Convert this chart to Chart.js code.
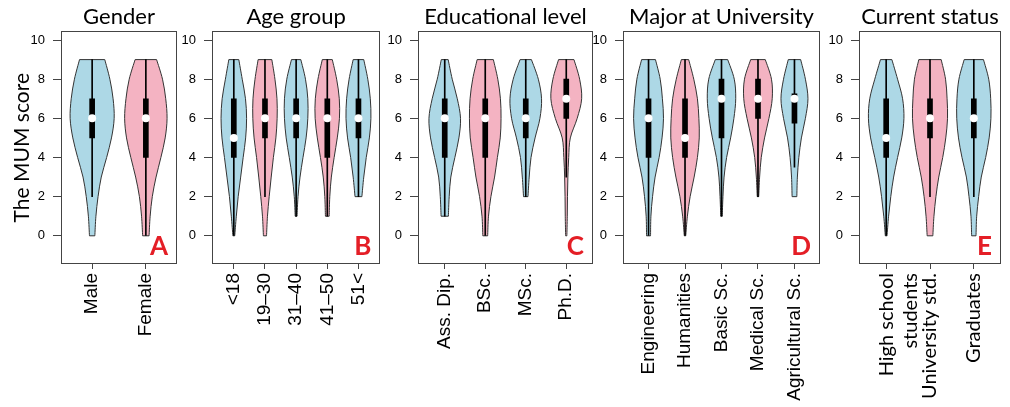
<!DOCTYPE html>
<html>
<head>
<meta charset="utf-8">
<title>MUM score violins</title>
<script src="https://cdn.jsdelivr.net/npm/chart.js@4.4.1/dist/chart.umd.min.js"></script>
<style>
  html, body { margin: 0; padding: 0; background: #fff; }
  #wrap { position: relative; width: 1010px; height: 407px; overflow: hidden; }
  .panel { position: absolute; top: 0; height: 407px; }
</style>
</head>
<body>
<div id="wrap">
  <div class="panel" style="left:0px;width:181px"><canvas id="chartA"></canvas></div>
  <div class="panel" style="left:176px;width:210px"><canvas id="chartB"></canvas></div>
  <div class="panel" style="left:382px;width:215px"><canvas id="chartC"></canvas></div>
  <div class="panel" style="left:587px;width:237px"><canvas id="chartD"></canvas></div>
  <div class="panel" style="left:823px;width:182px"><canvas id="chartE"></canvas></div>
</div>
<script>
// ============================================================
// Data (score 0–10)
// density = half width of the violin (share of one category step),
// one value per score from violinFrom up to 9
// ============================================================

const yTicks = [0, 2, 4, 6, 8, 10];

// A — Gender
const genderLabels = ['Male', 'Female'];
const genderLow = [2, 0];
const genderQ1 = [5, 4];
const genderMedian = [6, 6];
const genderQ3 = [7, 7];
const genderHigh = [9, 9];
const genderViolinFrom = [0, 0];
const genderDensity = [
  [0.05, 0.07, 0.11, 0.17, 0.27, 0.36, 0.41, 0.39, 0.33, 0.235],
  [0.06, 0.08, 0.12, 0.19, 0.28, 0.36, 0.395, 0.37, 0.31, 0.20]
];

// B — Age group
const ageLabels = ['<18', '19\u201330', '31\u201340', '41\u201350', '51<'];
const ageLow = [0, 2, 1, 1, 2];
const ageQ1 = [4, 5, 5, 4, 5];
const ageMedian = [5, 6, 6, 6, 6];
const ageQ3 = [7, 7, 7, 7, 7];
const ageHigh = [9, 9, 9, 9, 9];
const ageViolinFrom = [0, 0, 1, 1, 2];
const ageDensity = [
  [0.03, 0.08, 0.14, 0.22, 0.30, 0.38, 0.41, 0.375, 0.27, 0.16],
  [0.05, 0.08, 0.135, 0.20, 0.27, 0.35, 0.39, 0.385, 0.32, 0.22],
  [0.03, 0.06, 0.125, 0.22, 0.32, 0.375, 0.375, 0.30, 0.15],
  [0.06, 0.08, 0.13, 0.22, 0.32, 0.39, 0.385, 0.30, 0.16],
  [0.11, 0.17, 0.25, 0.35, 0.40, 0.38, 0.30, 0.17]
];

// C — Educational level
const eduLabels = ['Ass. Dip.', 'BSc.', 'MSc.', 'Ph.D.'];
const eduLow = [1, 0, 2, 3];
const eduQ1 = [4, 4, 5, 6];
const eduMedian = [6, 6, 6, 7];
const eduQ3 = [7, 7, 7, 8];
const eduHigh = [9, 9, 9, 9];
const eduViolinFrom = [1, 0, 2, 0];
const eduDensity = [
  [0.09, 0.11, 0.15, 0.25, 0.35, 0.39, 0.31, 0.185, 0.085],
  [0.06, 0.08, 0.14, 0.23, 0.30, 0.37, 0.39, 0.375, 0.31, 0.20],
  [0.055, 0.085, 0.13, 0.23, 0.35, 0.39, 0.31, 0.14],
  [0.015, 0.025, 0.03, 0.04, 0.06, 0.10, 0.27, 0.38, 0.33, 0.19]
];

// D — Major at University
const majorLabels = ['Engineering', 'Humanities', 'Basic Sc.', 'Medical Sc.', 'Agricultural Sc.'];
const majorLow = [0, 0, 1, 2, 3.5];
const majorQ1 = [4, 4, 5, 6, 5.75];
const majorMedian = [6, 5, 7, 7, 7];
const majorQ3 = [7, 7, 8, 8, 7.25];
const majorHigh = [9, 9, 9, 9, 9];
const majorViolinFrom = [0, 0, 1, 2, 2];
const majorDensity = [
  [0.055, 0.065, 0.11, 0.18, 0.29, 0.37, 0.41, 0.38, 0.32, 0.19],
  [0.02, 0.065, 0.14, 0.25, 0.34, 0.39, 0.38, 0.34, 0.24, 0.10],
  [0.02, 0.04, 0.07, 0.14, 0.25, 0.34, 0.39, 0.35, 0.17],
  [0.02, 0.045, 0.09, 0.18, 0.30, 0.39, 0.37, 0.20],
  [0.065, 0.08, 0.12, 0.19, 0.30, 0.37, 0.30, 0.17]
];

// E — Current status
const statusLabels = [['High school', 'students'], 'University std.', 'Graduates'];
const statusLow = [0, 2, 2];
const statusQ1 = [4, 5, 5];
const statusMedian = [5, 6, 6];
const statusQ3 = [7, 7, 7];
const statusHigh = [9, 9, 9];
const statusViolinFrom = [0, 0, 0];
const statusDensity = [
  [0.02, 0.055, 0.105, 0.17, 0.26, 0.355, 0.405, 0.375, 0.26, 0.13],
  [0.065, 0.09, 0.135, 0.20, 0.29, 0.36, 0.40, 0.39, 0.355, 0.255],
  [0.05, 0.065, 0.11, 0.17, 0.27, 0.35, 0.39, 0.385, 0.34, 0.22]
];

// ============================================================
// Panels
// ============================================================

const BLUE = '#add8e6';
const PINK = '#f4b3c2';
const FRAME = '#444';
const CALIBRI = 'Lato, "Open Sans", sans-serif';
const ARIAL = '"Liberation Sans", Arial, sans-serif';

const panels = [
  { id: 'chartA', title: 'Gender', letter: 'A', yWidth: 61, yTitle: 'The MUM score', labelFont: ARIAL, labelSize: 19,
    labels: genderLabels, low: genderLow, q1: genderQ1, median: genderMedian, q3: genderQ3, high: genderHigh,
    from: genderViolinFrom, density: genderDensity },
  { id: 'chartB', title: 'Age group', letter: 'B', yWidth: 36, labelFont: ARIAL, labelSize: 19,
    labels: ageLabels, low: ageLow, q1: ageQ1, median: ageMedian, q3: ageQ3, high: ageHigh,
    from: ageViolinFrom, density: ageDensity },
  { id: 'chartC', title: 'Educational level', letter: 'C', yWidth: 36, labelFont: ARIAL, labelSize: 19,
    labels: eduLabels, low: eduLow, q1: eduQ1, median: eduMedian, q3: eduQ3, high: eduHigh,
    from: eduViolinFrom, density: eduDensity },
  { id: 'chartD', title: 'Major at University', letter: 'D', yWidth: 36, labelFont: ARIAL, labelSize: 19,
    labels: majorLabels, low: majorLow, q1: majorQ1, median: majorMedian, q3: majorQ3, high: majorHigh,
    from: majorViolinFrom, density: majorDensity },
  { id: 'chartE', title: 'Current status', letter: 'E', yWidth: 36, labelFont: CALIBRI, labelSize: 20,
    labels: statusLabels, low: statusLow, q1: statusQ1, median: statusMedian, q3: statusQ3, high: statusHigh,
    from: statusViolinFrom, density: statusDensity }
];

// Catmull-Rom through the points, path must already sit on pts[0]
function spline(ctx, pts) {
  for (let i = 0; i < pts.length - 1; i++) {
    const p0 = pts[i - 1] || pts[i];
    const p1 = pts[i];
    const p2 = pts[i + 1];
    const p3 = pts[i + 2] || p2;
    ctx.bezierCurveTo(
      p1.x + (p2.x - p0.x) / 6, p1.y + (p2.y - p0.y) / 6,
      p2.x - (p3.x - p1.x) / 6, p2.y - (p3.y - p1.y) / 6,
      p2.x, p2.y);
  }
}

function violinPlugin(panel) {
  return {
    id: 'violins',
    beforeDatasetsDraw(chart) {
      const { ctx, chartArea, scales: { x, y } } = chart;
      const unit = x.getPixelForValue(1) - x.getPixelForValue(0);
      ctx.save();
      ctx.beginPath();
      ctx.rect(chartArea.left, chartArea.top, chartArea.width, chartArea.height);
      ctx.clip();
      panel.density.forEach((dens, i) => {
        const cx = x.getPixelForValue(i + 1);
        const right = dens.map((w, k) => ({ x: cx + w * unit, y: y.getPixelForValue(panel.from[i] + k) }));
        const left = right.map(p => ({ x: 2 * cx - p.x, y: p.y })).reverse();
        ctx.beginPath();
        ctx.moveTo(right[0].x, right[0].y);
        spline(ctx, right);
        ctx.lineTo(left[0].x, left[0].y);
        spline(ctx, left);
        ctx.closePath();
        ctx.fillStyle = i % 2 ? PINK : BLUE;
        ctx.fill();
        ctx.strokeStyle = '#333';
        ctx.lineWidth = 1;
        ctx.stroke();
      });
      ctx.restore();
    },
    afterDraw(chart) {
      const { ctx, chartArea } = chart;
      ctx.save();
      ctx.strokeStyle = FRAME;
      ctx.lineWidth = 1;
      ctx.strokeRect(Math.round(chartArea.left) + 0.5, Math.round(chartArea.top) + 0.5,
        Math.round(chartArea.width) - 1, Math.round(chartArea.height) - 1);
      ctx.fillStyle = '#e41e26';
      ctx.font = 'bold 26px ' + CALIBRI;
      ctx.textAlign = 'right';
      ctx.textBaseline = 'alphabetic';
      ctx.fillText(panel.letter, chartArea.right - 9, chartArea.bottom - 9);
      ctx.restore();
    }
  };
}

function renderPanel(panel) {
  const canvas = document.getElementById(panel.id);
  const n = panel.labels.length;
  const pad = 0.04 * n;
  const xs = panel.labels.map((_, i) => i + 1);

  new Chart(canvas, {
    type: 'bar',
    data: {
      datasets: [
        {
          type: 'scatter',
          data: xs.map((x, i) => ({ x, y: panel.median[i] })),
          pointRadius: 4,
          pointBackgroundColor: '#fff',
          pointBorderWidth: 0,
          order: 0
        },
        {
          data: xs.map((x, i) => ({ x, y: [panel.q1[i], panel.q3[i]] })),
          backgroundColor: '#000',
          barThickness: 5,
          grouped: false,
          order: 1
        },
        {
          data: xs.map((x, i) => ({ x, y: [panel.low[i], panel.high[i]] })),
          backgroundColor: '#000',
          barThickness: 1,
          grouped: false,
          order: 2
        }
      ]
    },
    options: {
      responsive: true,
      maintainAspectRatio: false,
      animation: false,
      events: [],
      layout: { padding: { right: 2 } },
      plugins: {
        legend: { display: false },
        tooltip: { enabled: false },
        title: {
          display: true,
          fullSize: false,
          text: panel.title,
          color: '#000',
          font: { family: CALIBRI, size: 22, weight: 'normal' },
          padding: { top: 4, bottom: 1 }
        }
      },
      scales: {
        x: {
          type: 'linear',
          min: 0.5 - pad,
          max: n + 0.5 + pad,
          offset: false,
          afterBuildTicks: s => { s.ticks = xs.map(v => ({ value: v })); },
          afterFit: s => { s.height = 143; },
          border: { display: false },
          grid: { display: true, offset: false, drawOnChartArea: false, tickLength: 5, color: FRAME },
          ticks: {
            autoSkip: false,
            minRotation: 90,
            maxRotation: 90,
            padding: 4,
            color: '#000',
            font: { family: panel.labelFont, size: panel.labelSize },
            callback: v => panel.labels[v - 1]
          }
        },
        y: {
          type: 'linear',
          min: -1.44,
          max: 10.44,
          afterBuildTicks: s => { s.ticks = yTicks.map(v => ({ value: v })); },
          afterFit: s => { s.width = panel.yWidth; },
          border: { display: false },
          grid: { display: true, drawOnChartArea: false, tickLength: 8, color: FRAME },
          ticks: {
            padding: 8,
            color: '#000',
            font: { family: ARIAL, size: 13 }
          },
          title: {
            display: !!panel.yTitle,
            text: panel.yTitle || '',
            color: '#000',
            font: { family: CALIBRI, size: 21 },
            padding: { top: 10, bottom: 0 }
          }
        }
      }
    },
    plugins: [violinPlugin(panel)]
  });
}

panels.forEach(renderPanel);
</script>
</body>
</html>
